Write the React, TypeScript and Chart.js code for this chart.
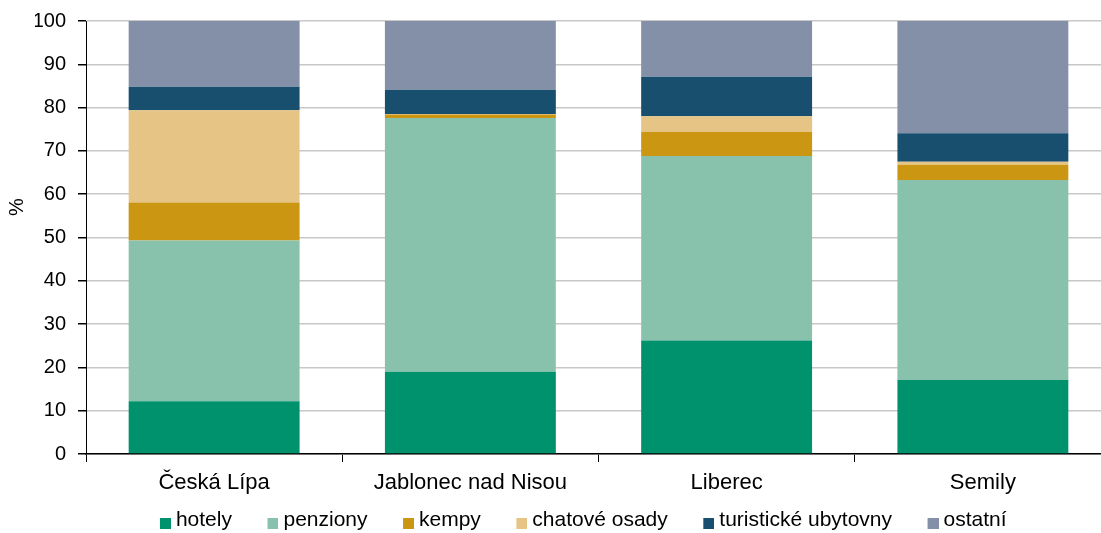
import React, { useEffect, useRef } from "react";
import { Chart, registerables } from "chart.js";

Chart.register(...registerables);

const categories = ["Česká Lípa", "Jablonec nad Nisou", "Liberec", "Semily"];
const hotely = [12.2, 19.0, 26.2, 17.1];
const penziony = [37.1, 58.6, 42.6, 46.2];
const kempy = [8.8, 0.8, 5.6, 3.5];
const chatoveOsady = [21.3, 0.1, 3.6, 0.7];
const turistickeUbytovny = [5.4, 5.6, 9.1, 6.6];
const ostatni = [15.2, 15.9, 12.9, 25.9];
const yTicks = [0, 10, 20, 30, 40, 50, 60, 70, 80, 90, 100];
const yTitle = "%";

const seriesNames = ["hotely", "penziony", "kempy", "chatové osady", "turistické ubytovny", "ostatní"];
const seriesValues = [hotely, penziony, kempy, chatoveOsady, turistickeUbytovny, ostatni];
const seriesColors = ["#00926d", "#88c2ad", "#cb9611", "#e5c486", "#184f6f", "#8490a7"];

const FONT = "'Liberation Sans', Arial, Helvetica, sans-serif";
const LEGEND_BOX = 11;
const LEGEND_LEAD = 26;

function makeSwatch(color: string) {
  const c = document.createElement("canvas");
  c.width = LEGEND_LEAD + LEGEND_BOX;
  c.height = 17;
  const ctx = c.getContext("2d")!;
  ctx.fillStyle = color;
  ctx.fillRect(c.width - LEGEND_BOX, c.height - LEGEND_BOX, LEGEND_BOX, LEGEND_BOX);
  return c;
}

const yTitlePlugin = {
  id: "yTitleLabel",
  afterDraw(chart: any) {
    const { ctx, chartArea } = chart;
    const y = chartArea.top + (chartArea.bottom - chartArea.top) * 0.43;
    ctx.save();
    ctx.translate(17, y);
    ctx.rotate(-Math.PI / 2);
    ctx.fillStyle = "#000";
    ctx.font = `20px ${FONT}`;
    ctx.textAlign = "center";
    ctx.textBaseline = "middle";
    ctx.fillText(yTitle, 0, 0);
    ctx.restore();
  },
};

export default function App() {
  const ref = useRef<HTMLCanvasElement | null>(null);
  useEffect(() => {
    if (!ref.current) return;
    const swatches = seriesColors.map(makeSwatch);
    const chart = new Chart(ref.current, {
      type: "bar",
      data: {
        labels: categories,
        datasets: seriesNames.map((name, i) => ({
          label: name,
          data: seriesValues[i],
          backgroundColor: seriesColors[i],
          borderWidth: 0,
          categoryPercentage: 1,
          barPercentage: 0.667,
        })),
      },
      plugins: [yTitlePlugin],
      options: {
        animation: false,
        responsive: false,
        layout: { padding: { top: 21, right: 0, left: 35, bottom: 0 } },
        plugins: {
          tooltip: { enabled: false },
          legend: {
            position: "bottom",
            fullSize: true,
            labels: {
              usePointStyle: true,
              pointStyleWidth: LEGEND_LEAD,
              padding: 15,
              color: "#000",
              font: { family: FONT, size: 21 },
              generateLabels: (ch: any) => {
                const items = (Chart as any).defaults.plugins.legend.labels.generateLabels(ch);
                return items.map((it: any, i: number) => ({ ...it, pointStyle: swatches[i] }));
              },
            },
          },
        },
        scales: {
          x: {
            stacked: true,
            afterFit: (axis: any) => {
              axis.height = 41;
            },
            border: { display: true, color: "#000", width: 1.5 },
            grid: {
              display: true,
              offset: true,
              drawOnChartArea: false,
              drawTicks: true,
              tickLength: 8,
              tickColor: "#000",
            },
            ticks: { color: "#000", font: { family: FONT, size: 22 }, padding: 8 },
          },
          y: {
            stacked: true,
            min: 0,
            max: 100,
            afterBuildTicks: (axis: any) => {
              axis.ticks = yTicks.map((v) => ({ value: v }));
            },
            afterFit: (axis: any) => {
              axis.width = 51;
              axis.paddingTop = 0;
              axis.paddingBottom = 0;
            },
            border: { display: true, color: "#000", width: 1 },
            grid: {
              color: "#c8c8c8",
              lineWidth: 1.5,
              tickLength: 8,
              tickColor: "#000",
            },
            ticks: { color: "#000", font: { family: FONT, size: 20 }, padding: 12 },
          },
        },
      },
    });
    return () => chart.destroy();
  }, []);
  return (
    <div style={{ position: "fixed", left: 0, top: 0, width: 1101, height: 533, overflow: "hidden", background: "#fff" }}>
      <canvas ref={ref} width={1111} height={541} style={{ display: "block" }} />
    </div>
  );
}
